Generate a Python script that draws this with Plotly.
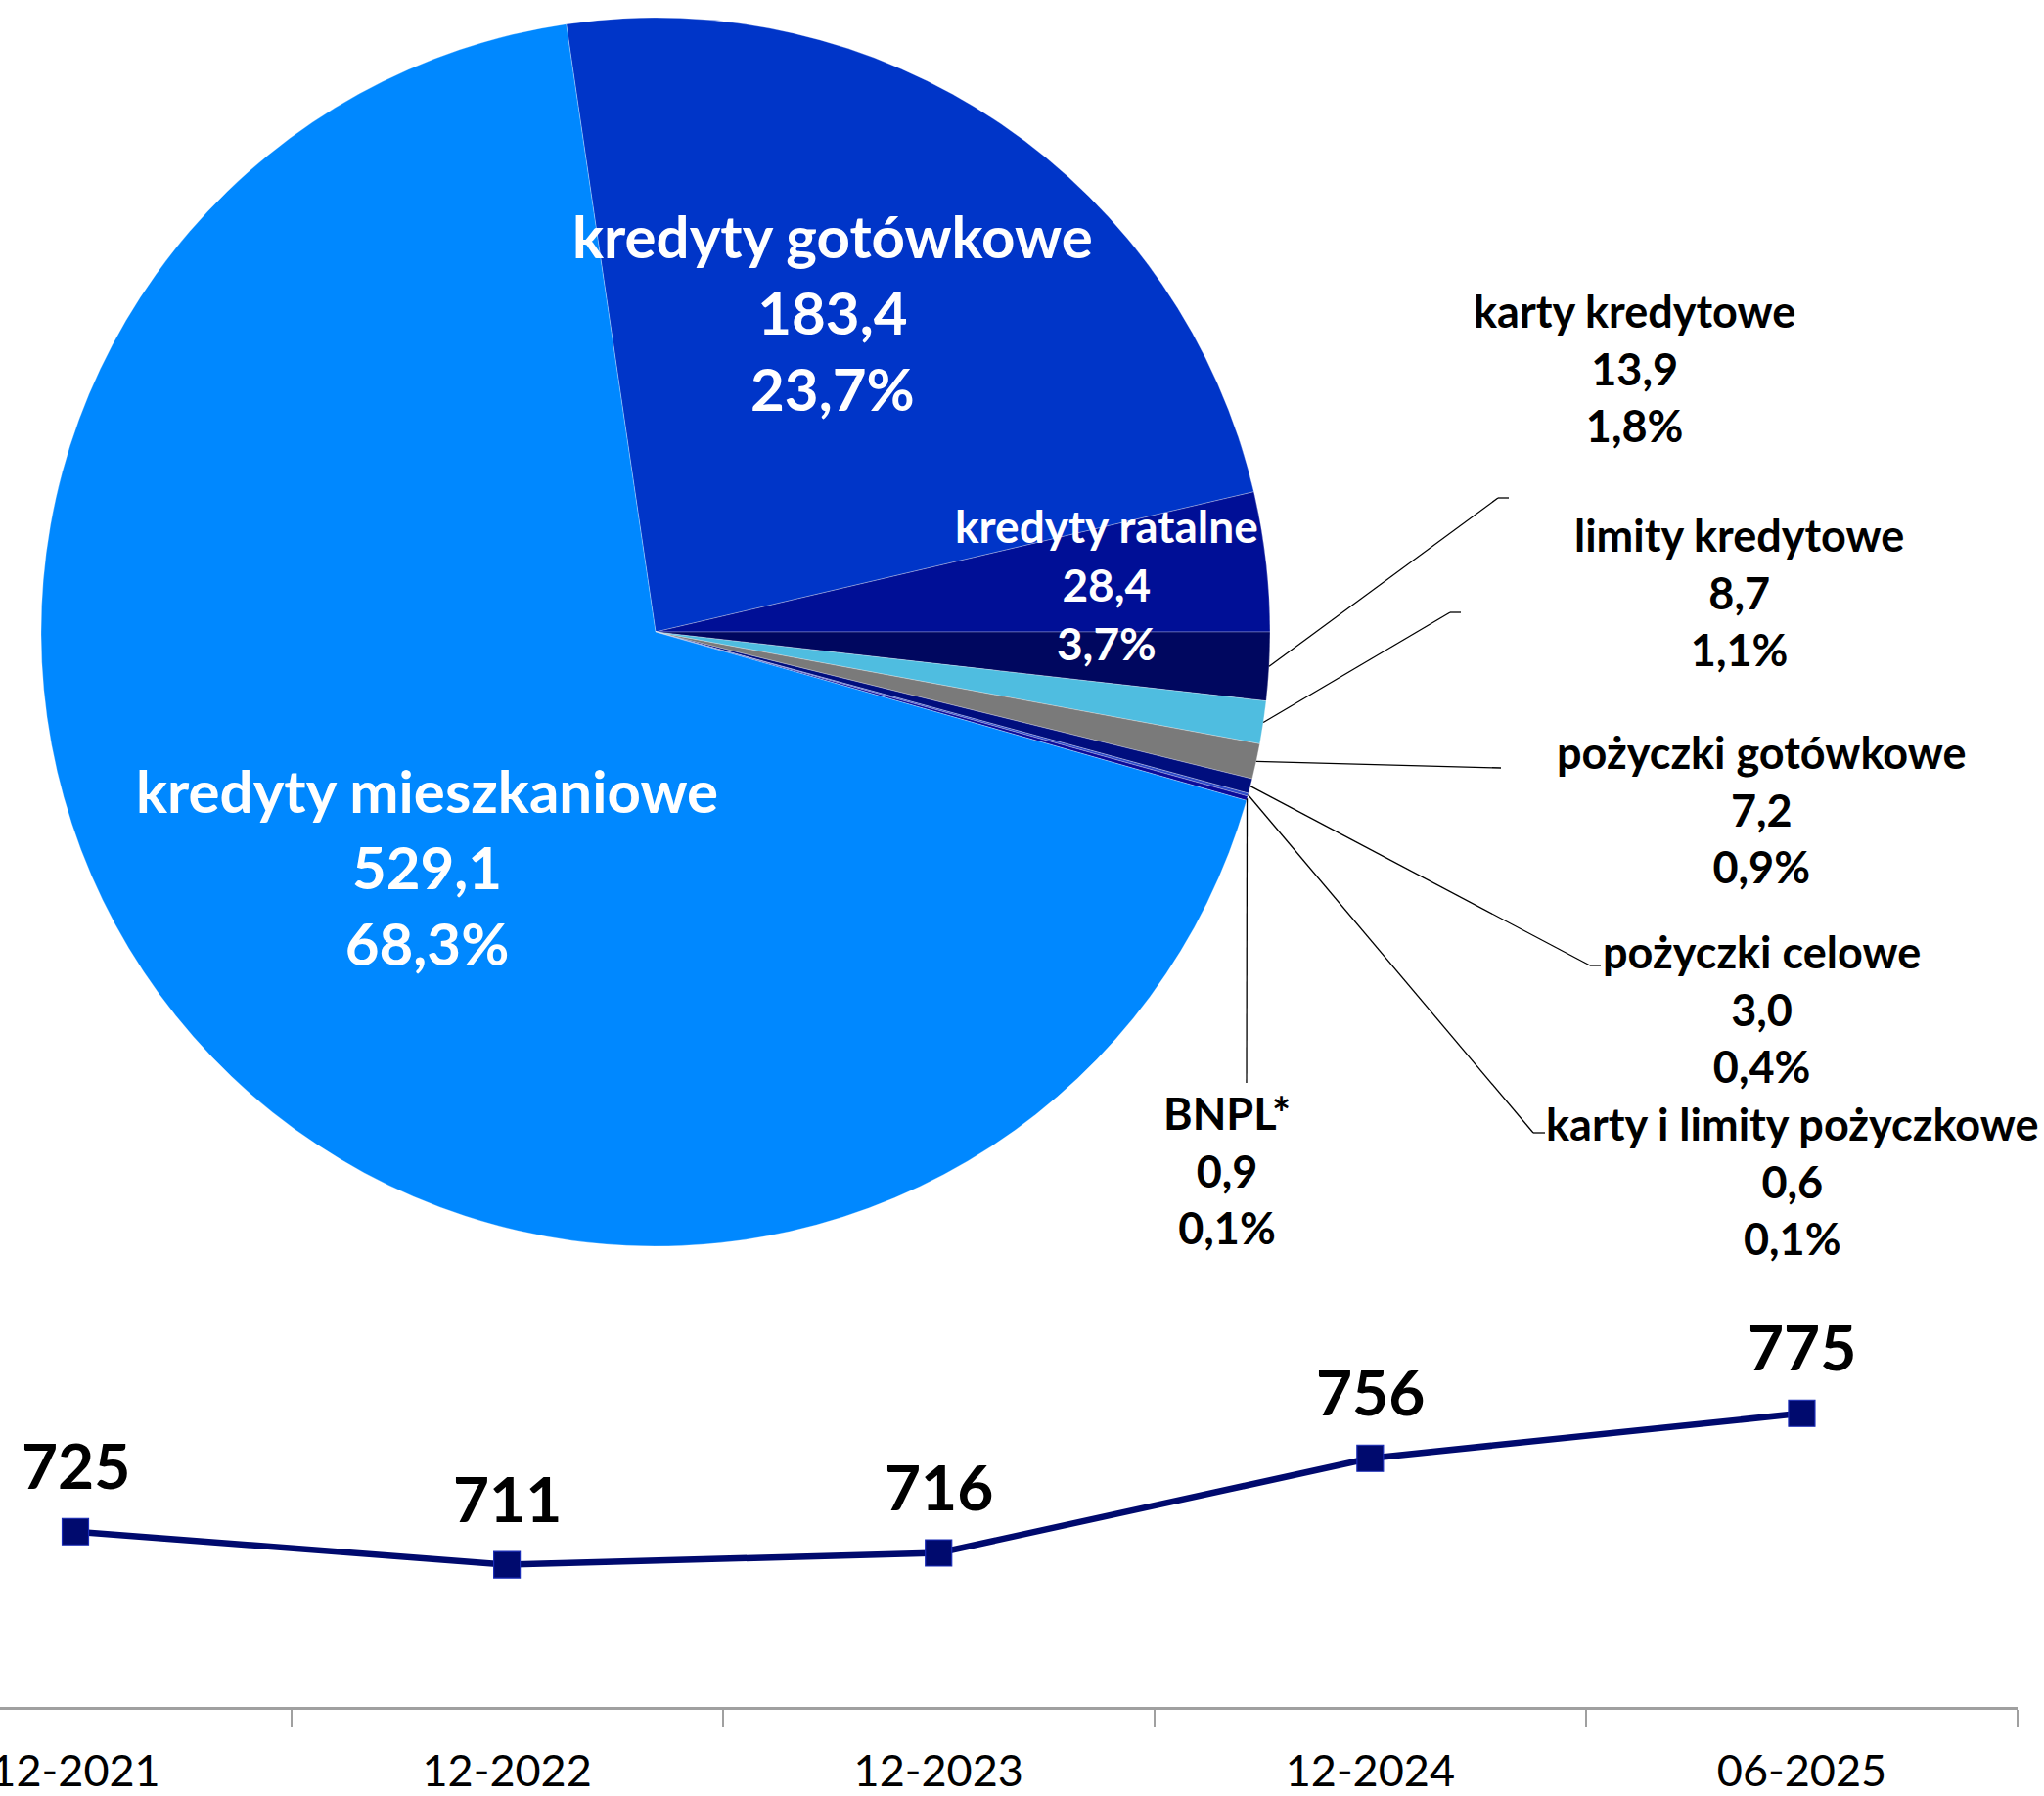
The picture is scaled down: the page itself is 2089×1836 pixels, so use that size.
import math
import plotly.graph_objects as go

# ---------------- data ----------------
pie_labels = ["kredyty gotówkowe", "kredyty ratalne", "karty kredytowe", "limity kredytowe",
              "pożyczki gotówkowe", "pożyczki celowe", "karty i limity pożyczkowe", "BNPL*",
              "kredyty mieszkaniowe"]
pie_values = [183.4, 28.4, 13.9, 8.7, 7.2, 3.0, 0.6, 0.9, 529.1]
pie_colors = ["#0035C8", "#000F96", "#00075F", "#4FBDE0", "#7A7A7A", "#000E7E",
              "#2E4BC8", "#0A0A9A", "#0088FF"]

periods = ["12-2021", "12-2022", "12-2023", "12-2024", "06-2025"]
totals = [725, 711, 716, 756, 775]

# ---------------- geometry / layout ----------------
W, H = 2089, 1836
ML, MR, MT, MB = 0, 27, 0, 91
PW, PH = W - ML - MR, H - MT - MB

def px(x):
    return x / PW

def py(y):
    return (PH - y) / PH

CX, CY, R = 670, 646, 628
ROT = -8.36

FONT = "Lato, 'Open Sans', 'DejaVu Sans', sans-serif"

total = sum(pie_values)

def fmt(v):
    return f"{v:.1f}".replace(".", ",")

pie_val_txt = [fmt(v) for v in pie_values]
pie_pct_txt = [fmt(v / total * 100) + "%" for v in pie_values]

# label placement (pixel centres of middle line), font size, colour
label_pos = {
    "kredyty gotówkowe": (851, 319, 60, "white"),
    "kredyty ratalne": (1131, 597, 46, "white"),
    "kredyty mieszkaniowe": (436, 886, 60, "white"),
    "karty kredytowe": (1670, 376, 45, "black"),
    "limity kredytowe": (1777, 606, 45, "black"),
    "pożyczki gotówkowe": (1800, 827, 45, "black"),
    "pożyczki celowe": (1800, 1031, 45, "black"),
    "karty i limity pożyczkowe": (1832, 1207, 45, "black"),
    "BNPL*": (1254, 1197, 45, "black"),
}

# leader lines: list of points after the slice anchor (pixels)
leaders = {
    "karty kredytowe": [(1531, 509), (1542, 509)],
    "limity kredytowe": [(1482, 626), (1493, 626)],
    "pożyczki gotówkowe": [(1534, 785)],
    "pożyczki celowe": [(1625, 987), (1636, 987)],
    "karty i limity pożyczkowe": [(1567, 1158), (1579, 1158)],
    "BNPL*": [(1274, 1107)],
}

fig = go.Figure()

fig.add_trace(go.Pie(
    labels=pie_labels, values=pie_values, sort=False, direction="clockwise",
    rotation=ROT, textinfo="none", hoverinfo="label+value+percent",
    marker=dict(colors=pie_colors, line=dict(color="rgba(255,255,255,0.35)", width=0.8)),
    domain=dict(x=[px(CX - R), px(CX + R)], y=[py(CY + R), py(CY - R)]),
    showlegend=False,
))

fig.add_trace(go.Scatter(
    x=periods, y=totals, mode="lines+markers",
    line=dict(color="#000A6E", width=6.5),
    marker=dict(symbol="square", size=27, color="#000A6E",
                line=dict(color="#1A2CB8", width=1.2)),
    xaxis="x", yaxis="y", showlegend=False, cliponaxis=False,
))

annotations = []
shapes = []

cum = 0.0
for lab, val, vt, pt in zip(pie_labels, pie_values, pie_val_txt, pie_pct_txt):
    mid = ROT + (cum + val / 2) / total * 360
    cum += val
    x0, y0, fs, col = label_pos[lab]
    annotations.append(dict(
        text=f"{lab}<br>{vt}<br>{pt}", x=px(x0), y=py(y0), xref="paper", yref="paper",
        xanchor="center", yanchor="middle", showarrow=False, align="center",
        font=dict(family=FONT, size=fs, color=col, weight="bold"),
    ))
    if lab in leaders:
        a = math.radians(mid)
        ax = CX + R * math.sin(a)
        ay = CY - R * math.cos(a)
        pts = [(ax, ay)] + leaders[lab]
        for (xa, ya), (xb, yb) in zip(pts[:-1], pts[1:]):
            shapes.append(dict(type="line", xref="paper", yref="paper",
                               x0=px(xa), y0=py(ya), x1=px(xb), y1=py(yb),
                               line=dict(color="black", width=1.3)))

for p, v in zip(periods, totals):
    annotations.append(dict(
        text=str(v), x=p, y=v, xref="x", yref="y", yshift=68,
        xanchor="center", yanchor="middle", showarrow=False,
        font=dict(family=FONT, size=64, color="black", weight="bold"),
    ))

# y mapping of line panel: axis line at pixel 1745, 725 -> 1565.7, 775 -> 1444.7
Y_TOP_PX = 1340
fig.update_layout(
    width=W, height=H, autosize=False,
    margin=dict(l=ML, r=MR, t=MT, b=MB, pad=0),
    paper_bgcolor="white", plot_bgcolor="white",
    font=dict(family=FONT, color="black"),
    xaxis=dict(domain=[0, 1], type="category", range=[-0.1746, 4.5],
               tickson="boundaries", ticks="outside", ticklen=17, tickwidth=1.5,
               tickcolor="#A0A0A0", showline=True, linecolor="#A0A0A0", linewidth=2.5,
               showgrid=False, zeroline=False, automargin=False,
               tickfont=dict(family=FONT, size=45, color="black"), ticklabelstandoff=24),
    yaxis=dict(domain=[0, py(Y_TOP_PX)], range=[650.9, 818.3], visible=False,
               showgrid=False, zeroline=False),
    annotations=annotations,
    shapes=shapes,
)

fig.write_html("out.html", config={"displayModeBar": False},
               post_script="document.body.style.margin='0';")
